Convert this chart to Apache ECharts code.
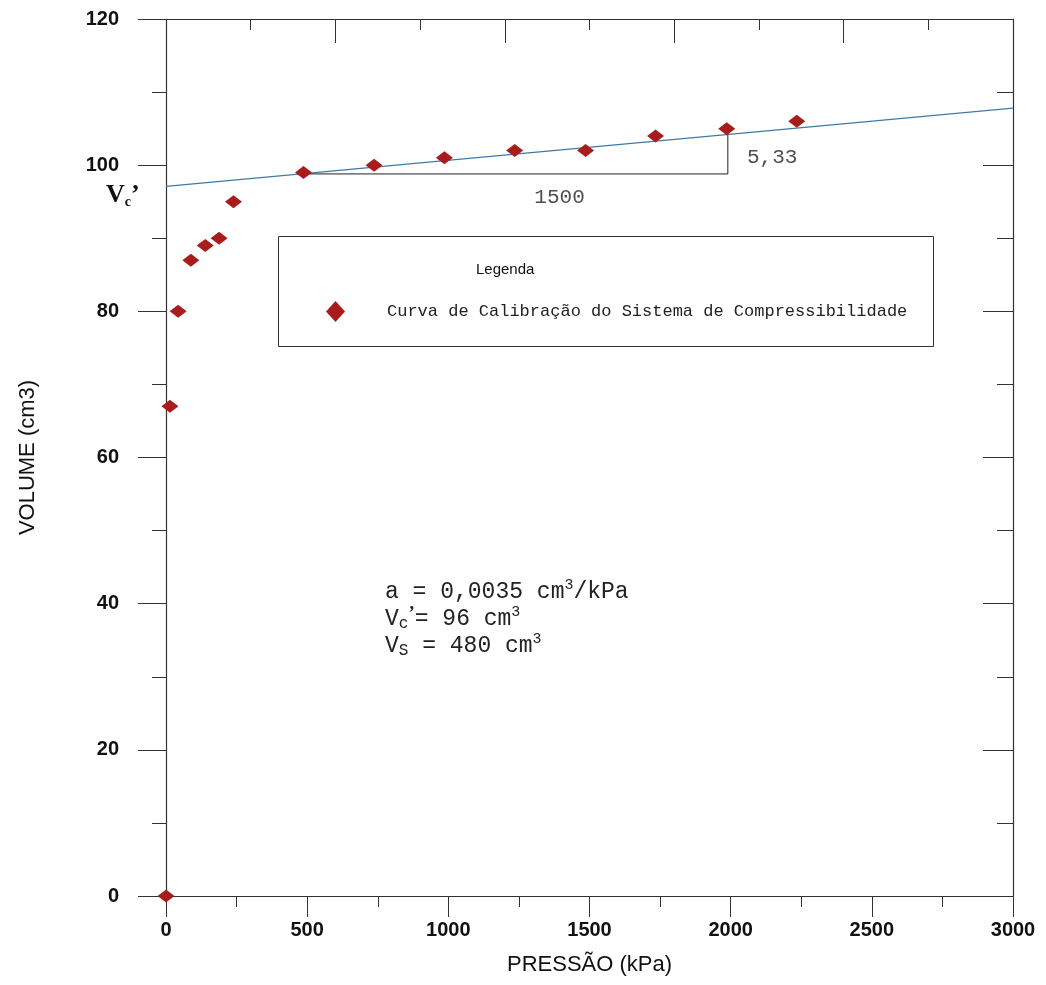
<!DOCTYPE html>
<html>
<head>
<meta charset="utf-8">
<script src="https://cdn.jsdelivr.net/npm/echarts@6/dist/echarts.min.js"></script>
<style>html,body{margin:0;padding:0;background:#fff}#c{width:1046px;height:985px}</style>
</head>
<body>
<div id="c"></div>
<script>
// ---- data ----
const pressure = [0, 14, 43, 88, 139, 188, 239, 487, 737, 986, 1235, 1486, 1734, 1986, 2234];
const volume   = [0, 67, 80, 87, 89, 90, 95, 99, 100, 101, 102, 102, 104, 105, 106];
const fitLineX = [0, 3000];
const fitLineY = [97.1, 107.8];
const slopeX = [490, 1990, 1990];
const slopeY = [98.8, 98.8, 104.2];
const xTicks = [0, 500, 1000, 1500, 2000, 2500, 3000];
const yTicks = [0, 20, 40, 60, 80, 100, 120];
const seriesName = 'Curva de Calibração do Sistema de Compressibilidade';

const mono = "'Liberation Mono','Courier New',monospace";
const sans = "'Liberation Sans',Arial,sans-serif";
const axisCol = '#333';
const red = '#a81c1c';

const chart = echarts.init(document.getElementById('c'), null, {renderer: 'canvas'});

const pts = pressure.map((p, i) => [p, volume[i]]);
const fit = fitLineX.map((x, i) => [x, fitLineY[i]]);
const slope = slopeX.map((x, i) => [x, slopeY[i]]);

const lblX = { show: true, fontFamily: sans, fontWeight: 'bold', fontSize: 20, color: '#111', margin: 24,
  formatter: v => String(v) };
const lblY = { show: true, fontFamily: sans, fontWeight: 'bold', fontSize: 20, color: '#111', margin: 47,
  formatter: v => String(v) };

chart.setOption({
  animation: false,
  backgroundColor: '#fff',
  grid: { left: 166, right: 33, top: 19, bottom: 89 },
  xAxis: [
    {
      type: 'value', position: 'bottom', min: xTicks[0], max: xTicks[xTicks.length - 1], interval: 500,
      name: 'PRESSÃO (kPa)', nameLocation: 'middle', nameGap: 58,
      nameTextStyle: { fontFamily: sans, fontSize: 22, color: '#111' },
      axisLine: { show: true, onZero: false, lineStyle: { color: axisCol, width: 1.2 } },
      axisTick: { show: true, inside: false, length: 21, lineStyle: { color: axisCol } },
      minorTick: { show: true, splitNumber: 2, length: 11, lineStyle: { color: axisCol } },
      axisLabel: lblX,
      splitLine: { show: false }
    },
    {
      type: 'value', position: 'top', min: 0, max: 3000, interval: 600,
      axisLine: { show: true, onZero: false, lineStyle: { color: axisCol, width: 1.2 } },
      axisTick: { show: true, inside: true, length: 24, lineStyle: { color: axisCol } },
      minorTick: { show: true, splitNumber: 2, length: 11, lineStyle: { color: axisCol } },
      axisLabel: { show: false },
      splitLine: { show: false }
    }
  ],
  yAxis: [
    {
      type: 'value', position: 'left', min: yTicks[0], max: yTicks[yTicks.length - 1], interval: 20,
      name: 'VOLUME (cm3)', nameLocation: 'middle', nameGap: 127,
      nameTextStyle: { fontFamily: sans, fontSize: 22, color: '#111' },
      axisLine: { show: true, onZero: false, lineStyle: { color: axisCol, width: 1.2 } },
      axisTick: { show: true, inside: false, length: 28, lineStyle: { color: axisCol } },
      minorTick: { show: true, splitNumber: 2, length: 14, lineStyle: { color: axisCol } },
      axisLabel: lblY,
      splitLine: { show: false }
    },
    {
      type: 'value', position: 'right', min: 0, max: 120, interval: 20,
      axisLine: { show: true, onZero: false, lineStyle: { color: axisCol, width: 1.2 } },
      axisTick: { show: true, inside: true, length: 30, lineStyle: { color: axisCol } },
      minorTick: { show: true, splitNumber: 2, length: 16, lineStyle: { color: axisCol } },
      axisLabel: { show: false },
      splitLine: { show: false }
    }
  ],
  legend: {
    show: true,
    left: 321, top: 296,
    data: [{ name: seriesName, icon: 'diamond' }],
    itemWidth: 19, itemHeight: 21,
    itemStyle: { color: red, opacity: 1 },
    textStyle: { fontFamily: mono, fontSize: 17, color: '#222', padding: [0, 0, 0, 37] },
    selectedMode: false
  },
  graphic: [
    { type: 'rect', left: 278, top: 236, shape: { width: 655, height: 110 },
      style: { fill: 'rgba(0,0,0,0)', stroke: '#333', lineWidth: 1 }, z: 5 },
    { type: 'text', left: 476, top: 262, z: 6,
      style: { text: 'Legenda', font: "15px 'Liberation Sans Narrow','Liberation Sans',Arial", fill: '#111' } },
    { type: 'text', left: 106, top: 182, z: 6,
      style: {
        text: '{V|V}{c|c}{p|’}',
        rich: {
          V: { fontFamily: "'Liberation Serif','Times New Roman',serif", fontWeight: 'bold', fontSize: 26, fill: '#111', lineHeight: 28 },
          c: { fontFamily: "'Liberation Serif','Times New Roman',serif", fontWeight: 'bold', fontSize: 14, fill: '#111', verticalAlign: 'bottom', lineHeight: 12 },
          p: { fontFamily: "'Liberation Serif','Times New Roman',serif", fontWeight: 'bold', fontSize: 26, fill: '#111', lineHeight: 28 }
        }
      } },
    { type: 'text', left: 385, top: 578, z: 6,
      style: {
        text: 'a = 0,0035 cm{sup|3}/kPa\nV{sub|c}{ap|’}= 96 cm{sup|3}\nV{sub|S} = 480 cm{sup|3}',
        fontFamily: mono, fontSize: 23, fill: '#222', lineHeight: 27,
        rich: {
          sup: { fontFamily: mono, fontSize: 15, fill: '#222', verticalAlign: 'top', lineHeight: 15 },
          sub: { fontFamily: mono, fontSize: 16, fill: '#222', verticalAlign: 'bottom', lineHeight: 12 },
          ap: { fontFamily: "'Liberation Serif',serif", fontWeight: 'bold', fontSize: 19, fill: '#222', verticalAlign: 'top', lineHeight: 16 }
        }
      } }
  ],
  series: [
    {
      name: 'fit', type: 'line', data: fit, showSymbol: false, symbol: 'none',
      lineStyle: { color: '#3f7aa6', width: 1.3 }, z: 2, silent: true
    },
    {
      name: 'slope', type: 'line', data: slope, showSymbol: false, symbol: 'none',
      lineStyle: { color: '#222', width: 1 }, z: 2, silent: true,
      label: { show: false }
    },
    {
      name: 'annot', type: 'scatter', symbolSize: 0, silent: true, z: 4,
      data: [
        { value: [1394, 95.6], label: { formatter: '1500' } },
        { value: [2040, 101.1], label: { formatter: '5,33', position: 'right' } }
      ],
      label: { show: true, position: 'inside', fontFamily: mono, fontSize: 21, color: '#222' }
    },
    {
      name: seriesName, type: 'scatter', data: pts, symbol: 'diamond', symbolSize: [17, 13],
      itemStyle: { color: red, opacity: 1 }, z: 5, clip: false
    }
  ]
});
</script>
</body>
</html>
